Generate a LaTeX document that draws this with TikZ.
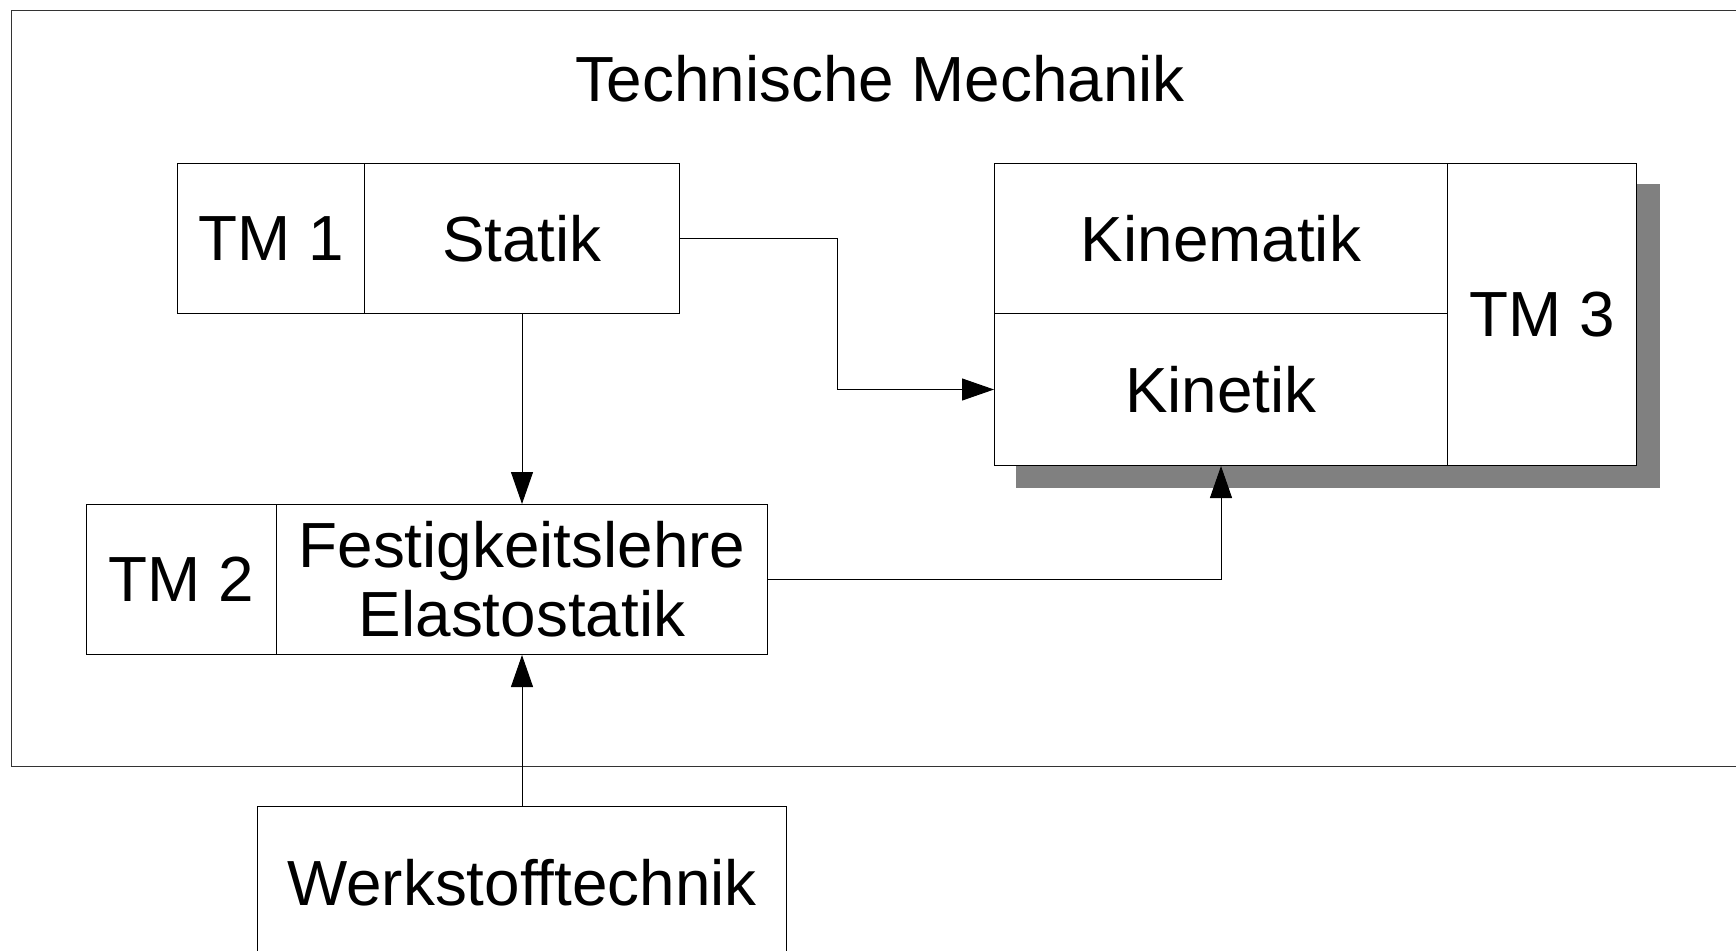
\documentclass[tikz,border=0pt]{standalone}
\usepackage{fontspec}
\setmainfont{Liberation Sans}
\usetikzlibrary{arrows.meta,backgrounds}
\begin{document}
\begin{tikzpicture}[x=1pt,y=-1pt,
  box/.style={draw=black,line width=1pt,fill=white,inner sep=0pt,anchor=north west,
    font=\fontsize{63.8}{69}\selectfont,align=center},
  arr/.style={line width=1pt,-{Triangle[width=22pt,length=32pt]}},
  ln/.style={line width=1pt}]
\useasboundingbox (0,0) rectangle (1736,950);
\clip (0,0) rectangle (1736,950);
\draw[ln,draw=black!80] (11,11) rectangle (1790,766);
\node[font=\fontsize{63.8}{69}\selectfont] (title) at (880,79) {Technische Mechanik};
% TM 1
\node[box,minimum width=187pt,minimum height=150pt] (tm1) at (177,163) {TM 1};
\node[box,minimum width=315pt,minimum height=150pt] (statik) at (364,163) {Statik};
% TM 3
\node[box,minimum width=453pt,minimum height=150pt] (kinematik) at (994,163) {Kinematik};
\node[box,minimum width=453pt,minimum height=152pt] (kinetik) at (994,313) {Kinetik};
\node[box,minimum width=189pt,minimum height=302pt] (tm3) at (1447,163) {TM 3};
\begin{scope}[on background layer]
\fill[black!50] ([shift={(22,21)}]kinematik.north west) rectangle ([shift={(23,22)}]tm3.south east);
\end{scope}
% TM 2
\node[box,minimum width=190pt,minimum height=150pt] (tm2) at (86,504) {TM 2};
\node[box,minimum width=491pt,minimum height=150pt] (fest) at (276,504) {Festigkeitslehre\\Elastostatik};
% Werkstofftechnik
\node[box,minimum width=529pt,minimum height=152pt] (werk) at (257,806) {Werkstofftechnik};
% connectors
\draw[arr] (statik.east) -- ++(157,0) |- (kinetik.west);
\draw[arr] (statik.south) -- (fest.north);
\draw[arr] (fest.east) -| (kinetik.south);
\draw[arr] (werk.north) -- (fest.south);
\end{tikzpicture}
\end{document}
